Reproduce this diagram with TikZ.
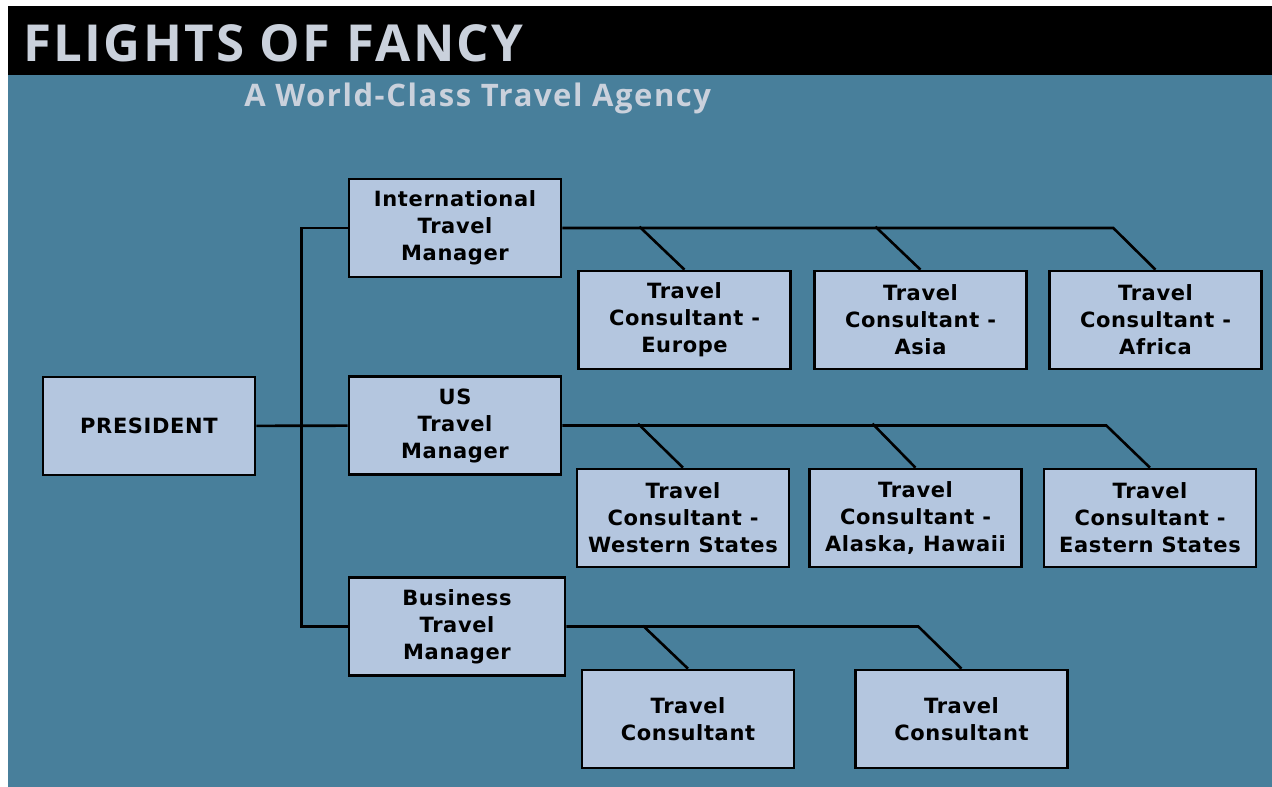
\documentclass[tikz,border=0pt]{standalone}
\usepackage{fontspec}
\setmainfont{DejaVu Sans}[LetterSpace=3]
\newfontfamily\titlefont{Open Sans}[LetterSpace=4.5]
\newfontfamily\subtitlefont{Open Sans}[LetterSpace=5]
\usepackage{tikz}
\usetikzlibrary{calc,positioning}

\definecolor{agencyblue}{RGB}{72,127,155}
\definecolor{boxfill}{RGB}{180,198,223}
\definecolor{titlegrey}{RGB}{202,209,220}

\begin{document}
\begin{tikzpicture}[x=1pt,y=-1pt,line width=2.6pt]
	    \tikzstyle{post}=[draw=black,fill=boxfill,minimum width=212pt,minimum height=98pt,inner sep=0pt,align=center,font=\fontsize{21}{27}\selectfont\bfseries]
	    \tikzstyle{link}=[draw=black,line width=2.6pt]
	    
	    % background and banner
	    \useasboundingbox (0,0) rectangle (1272,787);
	    \fill[white] (0,0) rectangle (1272,787);
	    \fill[agencyblue] (8,6) rectangle (1272,787);
	    \fill[black] (8,6) rectangle (1272,75);
	    \node[anchor=base west,inner sep=0pt,text=titlegrey,font=\titlefont\bfseries\fontsize{51}{51}\selectfont] (title) at (22,61) {FLIGHTS OF FANCY};
	    \node[anchor=base west,inner sep=0pt,text=titlegrey,font=\subtitlefont\bfseries\fontsize{31}{31}\selectfont] (subtitle) at (243,106) {A World-Class Travel Agency};
	    
	    % people
	    \node[post] (pres) at (149,426) {PRESIDENT};
	    \node[post] (intl) at (455,228) {International\\Travel\\Manager};
	    \node[post] (us) at (455,425.5) {US\\Travel\\Manager};
	    \node[post,minimum width=216pt] (bus) at (457,626.5) {Business\\Travel\\Manager};
	    
	    \node[post] (eur) at (684.5,320) {Travel\\Consultant -\\Europe};
	    \node[post] (asia) at (920.5,320) {Travel\\Consultant -\\Asia};
	    \node[post] (afr) at (1155.5,320) {Travel\\Consultant -\\Africa};
	    
	    \node[post] (west) at (683,518) {Travel\\Consultant -\\Western States};
	    \node[post] (alas) at (915.5,518) {Travel\\Consultant -\\Alaska, Hawaii};
	    \node[post] (east) at (1150,518) {Travel\\Consultant -\\Eastern States};
	    
	    \node[post] (bc1) at (688,719) {Travel\\Consultant};
	    \node[post] (bc2) at (961.5,719) {Travel\\Consultant};
	    
	    % lines
	    \draw[link] (pres) -- (us);
	    \draw[link] (intl.west) -- ++(-46,0) coordinate (spine) |- (bus.west);
	    
	    \draw[link] (intl.east) -- ++(551,0) -- (afr.north);
	    \draw[link] ($(eur.north)+(-45,-43)$) -- (eur.north);
	    \draw[link] ($(asia.north)+(-45,-43)$) -- (asia.north);
	    
	    \draw[link] (us.east) -- ++(544,0) -- (east.north);
	    \draw[link] ($(west.north)+(-45,-44)$) -- (west.north);
	    \draw[link] ($(alas.north)+(-43,-44)$) -- (alas.north);
	    
	    \draw[link] (bus.east) -- ++(352,0) -- (bc2.north);
	    \draw[link] ($(bc1.north)+(-45,-43)$) -- (bc1.north);
    
\end{tikzpicture}
\end{document}
